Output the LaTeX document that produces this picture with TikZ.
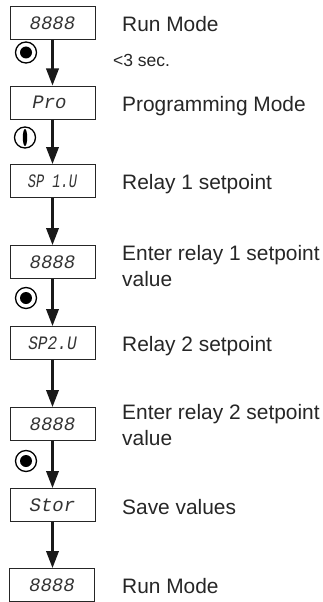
\documentclass[tikz,border=0pt]{standalone}
\usepackage{fontspec}
\usepackage{graphicx}
\setmainfont{Liberation Sans}
\newfontfamily\segfont{Liberation Mono}
\usetikzlibrary{arrows.meta}
\newcommand{\segw}[2]{\scalebox{#1}[1]{#2}}
\tikzset{
  dispbox/.style={draw=black!85,line width=1pt,minimum width=85pt,minimum height=33pt,inner sep=0pt,font=\segfont\itshape\fontsize{19}{19}\selectfont,text=black!80},
  lab/.style={anchor=base west,align=left,inner sep=0pt,font=\fontsize{20.9}{25.3}\selectfont,text=black!85},
  flow/.style={line width=2.2pt,draw=black!90,-{Triangle[width=12.5pt,length=17pt,fill=black!90]}},
  knob/.style={circle,draw=black,line width=1.3pt,minimum size=21pt,inner sep=0pt}
}
\begin{document}
\begin{tikzpicture}[x=1pt,y=-1pt]
\useasboundingbox (0,0) rectangle (323,602);
\node[dispbox] (b1) at (52.5,23.5) {8888};
\node[dispbox] (b2) at (52.5,102.5) {\hspace*{-6pt}Pro};
\node[dispbox] (b3) at (52.5,181) {\segw{0.72}{SP 1.U}};
\node[dispbox] (b4) at (52.5,262) {8888};
\node[dispbox] (b5) at (52.5,343) {\segw{0.85}{SP2.U}};
\node[dispbox] (b6) at (52.5,424) {8888};
\node[dispbox] (b7) at (52.5,505) {Stor};
\node[dispbox] (b8) at (52,585) {8888};
\foreach \a/\b in {b1/b2,b2/b3,b3/b4,b4/b5,b5/b6,b6/b7,b7/b8}{\draw[flow] (\a.south) -- (\a.south |- \b.north);}
\node[lab] (t1) at (122,32) {Run Mode};
\node[lab,font=\fontsize{17.5}{20}\selectfont] (t0) at (113,66.5) {<3 sec.};
\node[lab] (t2) at (122,111) {Programming Mode};
\node[lab] (t3) at (122,189) {Relay 1 setpoint};
\node[lab] (t4) at (122,286) {Enter relay 1 setpoint\\value};
\node[lab] (t5) at (122,351) {Relay 2 setpoint};
\node[lab] (t6) at (122,445) {Enter relay 2 setpoint\\value};
\node[lab] (t7) at (122,514) {Save values};
\node[lab] (t8) at (122,593) {Run Mode};
\foreach \n/\y in {k1/52.5,k3/298,k4/461}{
  \node[knob] (\n) at (26,\y) {};
  \fill[black] (\n) circle (6pt);
}
\node[knob] (k2) at (25,137.5) {};
\fill[black] (k2.center) ellipse (2.2pt and 8.5pt);
\end{tikzpicture}
\end{document}
